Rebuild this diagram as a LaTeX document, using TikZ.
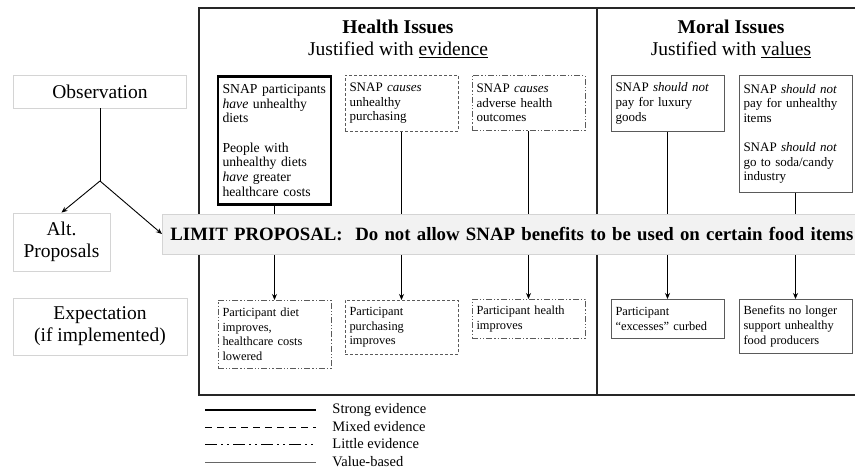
\documentclass[tikz,border=0pt]{standalone}
\usepackage{fontspec}
\setmainfont{Liberation Serif}
\usepackage{tikz}
\usetikzlibrary{positioning,arrows.meta}

\definecolor{boxline}{HTML}{5A5A5A}
\definecolor{sideline}{HTML}{D4D4D4}
\definecolor{proposalfill}{HTML}{F2F2F2}

\tikzset{
  sidebox/.style={draw=sideline, line width=0.8pt, align=center, font=\fontsize{19.5}{22}\selectfont},
  claim/.style={draw=boxline, line width=0.9pt, anchor=north, text width=104pt, inner xsep=4.5pt,
    align=left, font=\fontsize{13}{14.6}\selectfont},
  outcome/.style={claim, font=\fontsize{12.4}{14.6}\selectfont},
  strong/.style={draw=black, line width=2.6pt},
  mixed/.style={dash pattern=on 3pt off 2pt},
  little/.style={dash pattern=on 6pt off 2pt on 1.2pt off 2pt on 1.2pt off 2pt},
  valued/.style={},
  legtext/.style={anchor=west, font=\fontsize{14.5}{16}\selectfont, inner sep=0pt},
}

\begin{document}
\begin{tikzpicture}[x=1pt, y=-1pt, ->, >={Stealth[length=6pt,width=5pt]}, line width=0.9pt]
	\useasboundingbox (0,0) rectangle (855,473);

	% outer frame, split into health / moral
	\draw[-, line width=1.1pt, black!85] (199,8) rectangle (880,395);
	\draw[-, line width=1.1pt, black!85] (597,8) -- (597,395);

	\node[font=\fontsize{19.5}{22}\selectfont\bfseries] (health) at (398,27) {Health Issues};
	\node[font=\fontsize{19.5}{22}\selectfont] (healthsub) at (398,50) {Justified with \underline{evidence}};
	\node[font=\fontsize{19.5}{22}\selectfont\bfseries] (moral) at (731,27) {Moral Issues};
	\node[font=\fontsize{19.5}{22}\selectfont] (moralsub) at (731,50) {Justified with \underline{values}};

	% row labels
	\node[sidebox, minimum width=173pt, minimum height=33pt] (obs) at (100,91.5) {Observation};
	\node[sidebox, minimum width=97pt, minimum height=58pt] (alt) at (61.5,242) {Alt.\\Proposals};
	\node[sidebox, minimum width=174pt, minimum height=57pt] (expect) at (100,326.5) {Expectation\\(if implemented)};
	\coordinate (fork) at (100,181);

	% observations
	\node[claim, strong, minimum height=128pt, font=\fontsize{13.7}{14.7}\selectfont] (obs1) at (274.5,75) {SNAP participants\\\textit{have} unhealthy\\diets\\[14.7pt]People with\\unhealthy diets\\\textit{have} greater\\healthcare costs};
	\node[claim, mixed, minimum height=56pt] (obs2) at (401.5,75) {SNAP \textit{causes}\\unhealthy\\purchasing};
	\node[claim, little, minimum height=55pt] (obs3) at (528.5,75) {SNAP \textit{causes}\\adverse health\\outcomes};
	\node[claim, valued, minimum height=56pt] (obs4) at (667.5,75) {SNAP \textit{should not}\\pay for luxury\\goods};
	\node[claim, valued, minimum height=117pt] (obs5) at (795.5,75) {SNAP \textit{should not}\\pay for unhealthy\\items\\[14.6pt]SNAP \textit{should not}\\go to soda/candy\\industry};

	% expectations
	\node[outcome, little, minimum height=68pt] (exp1) at (274.5,300) {Participant diet\\improves,\\healthcare costs\\lowered};
	\node[outcome, mixed, minimum height=54pt] (exp2) at (401.5,300) {Participant\\purchasing\\improves};
	\node[outcome, little, minimum height=39pt] (exp3) at (528.5,299) {Participant health\\improves};
	\node[outcome, valued, minimum height=39pt] (exp4) at (667.5,299) {Participant\\``excesses'' curbed};
	\node[outcome, valued, minimum height=54pt] (exp5) at (795.5,299) {Benefits no longer\\support unhealthy\\food producers};

	\path (obs1) edge (exp1);
	\path (obs2) edge (exp2);
	\path (obs3) edge (exp3);
	\path (obs4) edge (exp4);
	\path (obs5) edge (exp5);

	% proposal bar over the columns
	\node[draw=sideline, fill=proposalfill, line width=0.8pt, anchor=west, minimum height=40pt,
	  text width=1000pt, inner xsep=8pt, align=left, font=\fontsize{18.8}{22}\selectfont\bfseries] (limit) at (162,234)
	  {LIMIT PROPOSAL:\ \ Do not allow SNAP benefits to be used on certain food items};

	\draw[-] (obs) -- (fork);
	\draw (fork) -- (alt.north);
	\draw (fork) -- (limit.west);

	% legend
	\node[legtext] (legstrong) at (332,410) {Strong evidence};
	\node[legtext] (legmixed) at (332,427) {Mixed evidence};
	\node[legtext] (leglittle) at (332,444) {Little evidence};
	\node[legtext] (legvalue) at (332,462) {Value-based};
	\draw[-, line width=2.6pt] ([xshift=-127pt]legstrong.west) -- ([xshift=-16pt]legstrong.west);
	\draw[-, line width=1pt, dash pattern=on 7pt off 5pt] ([xshift=-127pt]legmixed.west) -- ([xshift=-16pt]legmixed.west);
	\draw[-, line width=1pt, dash pattern=on 12pt off 4pt on 2pt off 4pt on 2pt off 4pt] ([xshift=-127pt]leglittle.west) -- ([xshift=-16pt]leglittle.west);
	\draw[-, line width=0.7pt, black!60] ([xshift=-127pt]legvalue.west) -- ([xshift=-16pt]legvalue.west);
\end{tikzpicture}
\end{document}
